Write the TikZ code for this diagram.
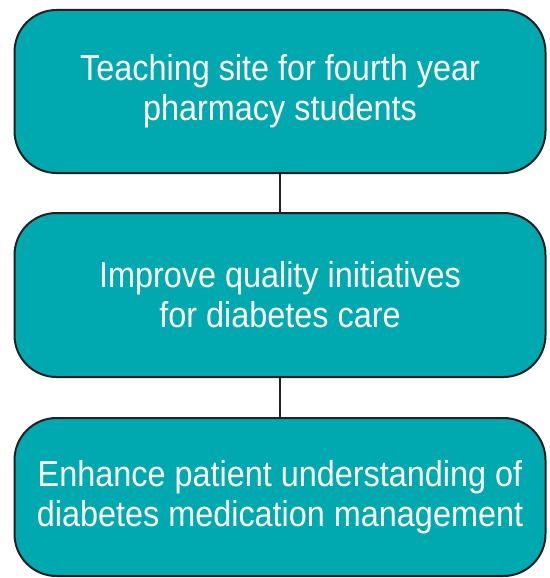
\documentclass[tikz,border=0pt]{standalone}
\usepackage{fontspec}
\setmainfont{Liberation Sans}[FakeStretch=0.9]
\definecolor{tealfill}{HTML}{00A8B0}
\definecolor{edgeink}{HTML}{231F20}
\begin{document}
\begin{tikzpicture}[x=1pt,y=-1pt,
  goalbox/.style={draw=edgeink, line width=2pt, fill=tealfill, rounded corners=42pt,
    minimum width=531pt, inner sep=0pt, outer sep=0pt, text=white, align=center,
    font=\fontsize{36}{40}\selectfont},
  link/.style={draw=edgeink, line width=2pt}]
\useasboundingbox (0,0) rectangle (549,578);
\node[goalbox, minimum height=163pt] (teach) at (280,91.5) {Teaching site for fourth year\\pharmacy students};
\node[goalbox, minimum height=164pt] (quality) at (280,295) {Improve quality initiatives\\for diabetes care};
\node[goalbox, minimum height=158pt] (enhance) at (280,497) {Enhance patient understanding of\\diabetes medication management};
\draw[link] (teach.south) -- (quality.north);
\draw[link] (quality.south) -- (enhance.north);
\end{tikzpicture}
\end{document}
